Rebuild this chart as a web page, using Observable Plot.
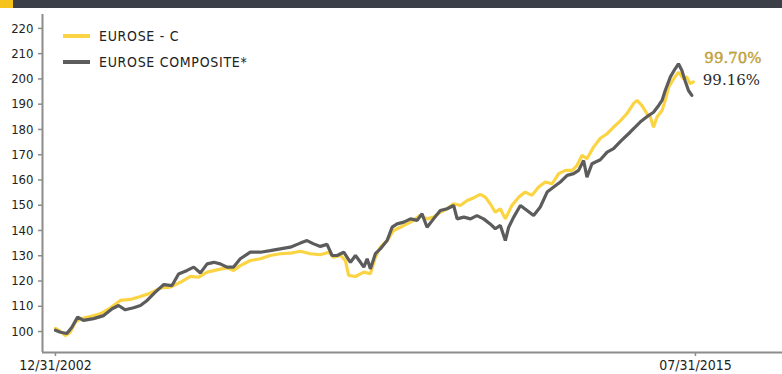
<!DOCTYPE html>
<html>
<head>
<meta charset="utf-8">
<script src="https://cdn.jsdelivr.net/npm/d3@7"></script>
<script src="https://cdn.jsdelivr.net/npm/@observablehq/plot@0.6"></script>
<style>
  html, body { margin: 0; padding: 0; background: #fff; }
  #wrap { position: relative; width: 782px; height: 374px; overflow: hidden; font-family: "Liberation Sans Narrow", "Arial Narrow", "DejaVu Sans Condensed", sans-serif; }
  #topbar { position: absolute; left: 0; top: 0; width: 782px; height: 8px; background: #3b3f48; }
  #topbar .accent { position: absolute; left: 0; top: 0; width: 13px; height: 8px; background: #f6c21c; }
  #chart { position: absolute; left: 0; top: 8px; }
  .leg { position: absolute; left: 63px; display: flex; align-items: center; font-size: 14px; color: #222; letter-spacing: 0.7px; }
  .leg .sw { width: 27px; height: 4px; margin-right: 9px; }
</style>
</head>
<body>
<div id="wrap">
  <div id="topbar"><div class="accent"></div></div>
  <div id="chart"></div>
  <div id="legend"></div>
</div>
<script>
// ---- Data ----
const seriesNames = ["EUROSE - C", "EUROSE COMPOSITE*"];
const seriesColors = ["#fbd443", "#5c5c5c"];
const endLabels = ["99.70%", "99.16%"];

const euroseCDates = [
  "2002-12-31","2003-02-05","2003-03-11","2003-04-16","2003-05-22","2003-06-27","2003-09-07","2003-11-18",
  "2004-01-30","2004-04-10","2004-06-21","2004-09-01","2004-11-12","2005-01-23","2005-04-04","2005-06-15",
  "2005-08-26","2005-10-24","2005-12-24","2006-03-04","2006-05-15","2006-07-02","2006-08-19","2006-10-30",
  "2007-01-11","2007-03-22","2007-06-02","2007-08-13","2007-10-24","2008-01-04","2008-03-16","2008-05-14",
  "2008-06-19","2008-08-07","2008-09-12","2008-10-05","2008-11-23","2009-01-22","2009-03-10","2009-04-15",
  "2009-05-20","2009-07-08","2009-08-24","2009-10-11","2009-11-29","2010-01-15","2010-03-03","2010-04-21",
  "2010-06-07","2010-07-25","2010-09-12","2010-10-29","2010-12-16","2011-02-03","2011-03-20","2011-05-08",
  "2011-06-13","2011-07-18","2011-08-24","2011-09-29","2011-11-04","2011-12-21","2012-02-08","2012-03-26",
  "2012-05-13","2012-06-30","2012-08-17","2012-10-05","2012-11-21","2013-01-09","2013-02-26","2013-04-01",
  "2013-05-07","2013-06-12","2013-07-29","2013-09-16","2013-11-04","2013-12-20","2014-02-08","2014-03-25",
  "2014-05-12","2014-06-06","2014-07-11","2014-08-17","2014-09-10","2014-10-03","2014-10-28","2014-12-03",
  "2014-12-26","2015-01-20","2015-02-25","2015-03-31","2015-05-06","2015-05-30","2015-06-23","2015-07-16"
];
const euroseCValues = [
  101.2,100.1,98.4,99.7,103.7,105.0,105.9,107.0,
  109.4,112.3,112.7,113.9,115.2,117.3,117.6,119.5,
  121.8,121.5,123.5,124.4,125.2,124.2,126.1,128.1,
  128.8,130.1,130.8,131.0,131.8,130.8,130.4,131.4,
  129.4,130.1,128.1,122.2,121.8,123.5,122.9,129.4,
  133.4,136.0,140.0,141.3,142.6,144.0,146.0,144.6,
  145.3,147.2,148.6,150.6,149.9,151.9,152.9,154.3,
  153.2,150.6,147.2,148.6,144.6,149.9,153.2,155.2,
  153.9,157.2,159.2,158.5,162.5,163.8,163.8,165.7,
  169.7,168.4,173.0,176.5,178.3,180.9,183.5,186.2,
  190.2,191.5,189.5,186.2,184.9,180.9,184.9,187.5,
  191.5,196.8,200.1,202.7,200.1,200.8,198.1,198.8
];

const compositeDates = [
  "2002-12-31","2003-02-05","2003-03-23","2003-04-28","2003-06-08","2003-07-20","2003-10-01","2003-12-12",
  "2004-02-11","2004-03-28","2004-05-15","2004-07-14","2004-09-01","2004-10-19","2004-12-17","2005-02-16",
  "2005-04-16","2005-06-02","2005-08-02","2005-09-19","2005-11-06","2005-12-24","2006-02-10","2006-03-28",
  "2006-05-15","2006-07-02","2006-08-19","2006-10-30","2007-01-11","2007-03-22","2007-06-02","2007-08-13",
  "2007-10-24","2007-12-11","2008-01-28","2008-03-16","2008-05-03","2008-06-08","2008-07-14","2008-08-31",
  "2008-10-18","2008-11-23","2008-12-29","2009-01-22","2009-02-15","2009-03-10","2009-04-15","2009-05-20",
  "2009-07-08","2009-08-13","2009-09-18","2009-11-05","2009-12-23","2010-02-09","2010-03-16","2010-04-21",
  "2010-06-07","2010-07-25","2010-09-12","2010-10-29","2010-11-23","2011-01-10","2011-02-27","2011-04-14",
  "2011-06-01","2011-07-18","2011-08-24","2011-09-29","2011-11-04","2011-11-28","2012-01-03","2012-02-20",
  "2012-04-08","2012-05-25","2012-07-12","2012-08-30","2012-10-16","2012-12-03","2013-01-21","2013-03-08",
  "2013-04-13","2013-05-19","2013-06-12","2013-07-18","2013-09-16","2013-11-04","2013-12-20","2014-02-08",
  "2014-04-18","2014-06-29","2014-08-28","2014-10-03","2014-11-09","2014-12-03","2014-12-26","2015-02-01",
  "2015-03-07","2015-03-31","2015-04-24","2015-05-17","2015-06-11","2015-07-05"
];
const compositeValues = [
  100.5,99.7,99.2,101.7,105.7,104.4,105.1,106.3,
  109.0,110.3,108.6,109.4,110.3,112.3,115.6,118.6,
  118.2,122.8,124.2,125.5,123.2,126.8,127.4,126.8,
  125.5,125.5,128.8,131.4,131.4,132.0,132.7,133.4,
  135.0,136.0,134.7,133.7,134.5,130.1,130.1,131.4,
  127.4,130.1,127.4,125.5,128.8,124.8,130.8,132.7,
  136.0,141.3,142.6,143.3,144.6,144.0,146.6,141.3,
  144.6,147.9,148.6,149.9,144.6,145.3,144.6,145.9,
  144.6,142.6,140.7,142.0,136.0,141.3,145.3,149.9,
  147.9,145.9,149.3,155.2,157.2,159.2,161.8,162.5,
  163.8,167.7,161.1,166.4,168.0,171.0,172.4,175.3,
  178.9,182.9,185.5,186.8,189.5,191.5,195.4,200.8,
  204.0,206.0,203.4,199.4,195.4,193.5
];

const yTicks = [100,110,120,130,140,150,160,170,180,190,200,210,220];
const xTickDates = ["2002-12-31","2015-07-31"];
const xTickLabels = ["12/31/2002","07/31/2015"];

// ---- Build tables ----
const parse = d3.utcParse("%Y-%m-%d");
const euroseC = euroseCDates.map((d, i) => ({date: parse(d), value: euroseCValues[i], series: seriesNames[0]}));
const composite = compositeDates.map((d, i) => ({date: parse(d), value: compositeValues[i], series: seriesNames[1]}));
const lasts = [euroseC[euroseC.length - 1], composite[composite.length - 1]];

const xDomain = [parse("2002-09-29"), parse("2017-04-16")];
const yDomain = [91.7, 225.5];
const axisColor = "#8c8c8c";
const font = '"Liberation Sans Narrow", "Arial Narrow", "DejaVu Sans Condensed", sans-serif';

const chart = Plot.plot({
  width: 782,
  height: 366,
  marginLeft: 42,
  marginRight: 0,
  marginTop: 6,
  marginBottom: 22,
  style: {fontFamily: font, fontSize: "13px", color: "#222", background: "transparent"},
  x: {type: "utc", domain: xDomain},
  y: {domain: yDomain},
  marks: [
    Plot.ruleX([xDomain[0]], {y1: yDomain[0], y2: yDomain[1], stroke: axisColor, strokeWidth: 2}),
    Plot.ruleY([yDomain[0]], {stroke: axisColor, strokeWidth: 2}),
    Plot.axisY(yTicks, {tickSize: 4, tickPadding: 5, stroke: axisColor, strokeWidth: 1.5, fill: "#222", label: null, tickFormat: d => String(d), fontSize: 13}),
    Plot.axisX(xTickDates.map(parse), {tickSize: 4, tickPadding: 4, stroke: axisColor, strokeWidth: 1.5, fill: "#222", label: null, tickFormat: (d, i) => xTickLabels[i], fontSize: 14}),
    Plot.line(euroseC, {x: "date", y: "value", stroke: seriesColors[0], strokeWidth: 3.2, strokeLinejoin: "miter"}),
    Plot.line(composite, {x: "date", y: "value", stroke: seriesColors[1], strokeWidth: 3.2, strokeLinejoin: "miter"}),
    Plot.text([lasts[0]], {x: "date", y: "value", text: () => endLabels[0], dx: 11, dy: -24, textAnchor: "start", fill: "#c9a62a", stroke: "#6b5a1a", strokeWidth: 0.3, fontSize: 15, fontFamily: '"DejaVu Serif", serif'}),
    Plot.text([lasts[1]], {x: "date", y: "value", text: () => endLabels[1], dx: 11, dy: -15, textAnchor: "start", fill: "#2a2a2a", fontSize: 15, fontFamily: '"DejaVu Serif", serif'})
  ]
});
document.getElementById("chart").appendChild(chart);

// ---- Legend ----
const legend = document.getElementById("legend");
seriesNames.forEach((name, i) => {
  const row = document.createElement("div");
  row.className = "leg";
  row.style.top = (28 + i * 26) + "px";
  const sw = document.createElement("span");
  sw.className = "sw";
  sw.style.background = seriesColors[i];
  const label = document.createElement("span");
  label.textContent = name;
  row.appendChild(sw);
  row.appendChild(label);
  legend.appendChild(row);
});
</script>
</body>
</html>
